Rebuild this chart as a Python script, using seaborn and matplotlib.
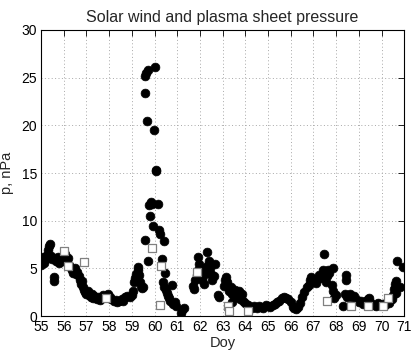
import numpy as np
import pandas as pd
import matplotlib
matplotlib.use("Agg")
import matplotlib.pyplot as plt
import seaborn as sns

# --- Donnees ---
# Vent solaire (cercles pleins)
sw_day = [55.00, 55.05, 55.10, 55.15, 55.20, 55.25, 55.30, 55.35, 55.40, 55.45,
          55.50, 55.55, 55.58, 55.65, 55.75, 55.80, 55.85, 55.95, 56.00, 56.05,
          56.10, 56.20, 56.25, 56.30, 56.35, 56.40, 56.45, 56.50, 56.55, 56.60,
          56.65, 56.70, 56.75, 56.80, 56.85, 56.90, 56.95, 57.00, 57.05, 57.10,
          57.20, 57.25, 57.30, 57.35, 57.45, 57.50, 57.60, 57.65, 57.75, 57.85,
          57.95, 58.05, 58.10, 58.20, 58.30, 58.35, 58.45, 58.55, 58.60, 58.70,
          58.80, 58.90, 59.00, 59.05, 59.10, 59.15, 59.20, 59.25, 59.28, 59.30,
          59.35, 59.40, 59.45, 59.50, 59.57, 59.57, 59.62, 59.70, 59.65, 59.60,
          59.70, 59.75, 59.78, 59.85, 59.90, 59.93, 59.98, 60.02, 60.08, 60.05,
          60.15, 60.18, 60.22, 60.33, 60.42, 60.35, 60.40, 60.45, 60.50, 60.55,
          60.60, 60.65, 60.70, 60.77, 60.80, 60.90, 60.95, 61.15, 61.22, 61.28,
          61.70, 61.72, 61.80, 61.85, 61.90, 61.92, 61.95, 62.00, 62.05, 62.10,
          62.15, 62.20, 62.25, 62.30, 62.33, 62.38, 62.40, 62.45, 62.50, 62.55,
          62.60, 62.68, 62.80, 62.85, 63.05, 63.10, 63.15, 63.20, 63.25, 63.30,
          63.35, 63.40, 63.42, 63.50, 63.55, 63.60, 63.70, 63.75, 63.85, 63.90,
          64.00, 64.10, 64.20, 64.30, 64.40, 64.50, 64.60, 64.70, 64.80, 64.90,
          65.00, 65.10, 65.20, 65.30, 65.40, 65.50, 65.60, 65.70, 65.80, 65.90,
          66.00, 66.10, 66.15, 66.25, 66.30, 66.40, 66.50, 66.60, 66.70, 66.80,
          66.85, 66.90, 67.00, 67.10, 67.20, 67.25, 67.35, 67.40, 67.48, 67.50,
          67.55, 67.60, 67.65, 67.70, 67.80, 67.85, 67.88, 67.92, 68.00, 68.30,
          68.40, 68.44, 68.45, 68.50, 68.60, 68.70, 68.80, 68.90, 69.00, 69.10,
          69.20, 69.30, 69.40, 69.46, 69.55, 69.65, 69.75, 69.85, 69.95, 70.05,
          70.15, 70.25, 70.35, 70.45, 70.50, 70.55, 70.60, 70.62, 70.65, 70.70,
          70.80, 70.93]
sw_p = [5.4, 5.9, 6.2, 5.6, 6.0, 6.4, 6.9, 7.3, 7.6, 6.3,
        6.0, 4.1, 3.7, 5.8, 6.2, 5.6, 6.0, 6.3, 5.9, 6.5,
        5.7, 6.1, 5.4, 5.0, 4.8, 4.5, 4.7, 5.0, 4.4, 4.6,
        4.2, 3.8, 3.4, 3.7, 3.0, 2.7, 2.5, 2.3, 2.6, 2.2,
        2.0, 2.3, 1.9, 2.1, 1.8, 2.0, 1.7, 1.9, 2.2, 2.0,
        2.3, 2.0, 1.8, 1.6, 1.7, 1.5, 1.6, 1.8, 1.6, 2.0,
        2.1, 2.0, 2.2, 2.6, 3.6, 4.0, 4.4, 4.8, 5.1, 4.3,
        3.6, 3.2, 2.9, 3.1, 25.2, 23.4, 25.5, 25.8, 20.5, 8.0,
        5.8, 11.6, 10.5, 12.0, 11.8, 9.4, 19.5, 26.1, 15.2, 15.3,
        11.7, 9.0, 8.6, 6.0, 7.9, 3.6, 3.0, 4.5, 2.7, 2.4,
        2.1, 1.9, 1.6, 3.3, 1.3, 1.5, 1.1, 0.3, 0.6, 0.9,
        3.2, 2.8, 3.8, 4.3, 4.8, 6.2, 5.5, 4.5, 5.0, 3.8,
        4.2, 3.4, 4.7, 5.2, 6.7, 5.8, 4.5, 5.0, 4.4, 3.8,
        4.2, 5.5, 2.2, 2.0, 3.2, 3.8, 4.1, 3.6, 3.0, 2.6,
        3.1, 2.3, 1.5, 2.2, 2.7, 2.0, 2.6, 1.8, 2.3, 1.6,
        1.4, 1.2, 1.0, 0.9, 1.1, 0.9, 1.1, 1.0, 0.9, 1.2,
        1.1, 1.0, 1.2, 1.3, 1.5, 1.6, 1.9, 2.0, 1.9, 1.8,
        1.5, 1.0, 0.8, 0.7, 1.0, 1.4, 2.0, 2.5, 3.0, 3.3,
        3.8, 4.1, 3.7, 3.5, 4.0, 4.3, 4.0, 4.8, 6.5, 4.5,
        3.6, 4.2, 4.8, 4.5, 3.3, 5.0, 2.6, 1.9, 2.2, 1.1,
        2.3, 3.8, 4.3, 2.0, 2.3, 2.0, 2.1, 1.7, 1.5, 1.6,
        1.3, 1.6, 1.8, 1.9, 1.4, 1.2, 1.1, 1.4, 1.2, 1.3,
        1.2, 1.5, 1.4, 1.8, 2.2, 2.8, 3.4, 3.7, 2.4, 5.8,
        3.1, 5.1]

# Feuillet de plasma (carres vides)
ps_day = [56.00, 56.20, 56.90, 57.85, 59.88, 60.30, 60.25, 61.87, 63.22, 63.30,
          64.10, 67.62, 68.65, 69.40, 70.05, 70.27]
ps_p = [6.85, 5.25, 5.7, 1.9, 7.1, 5.2, 1.2, 4.6, 1.1, 0.5,
        0.55, 1.6, 1.05, 1.1, 1.1, 1.9]

x_ticks = list(range(55, 72))
y_ticks = [0, 5, 10, 15, 20, 25, 30]

sw = pd.DataFrame({"doy": sw_day, "p": sw_p})
ps = pd.DataFrame({"doy": ps_day, "p": ps_p})

sns.set_style("white")
plt.rcParams["font.family"] = ["Liberation Sans", "DejaVu Sans"]

fig = plt.figure(figsize=(4.15, 3.52), dpi=100)
ax = fig.add_axes([0.099, 0.102, 0.875, 0.813])

sns.scatterplot(data=sw, x="doy", y="p", ax=ax, color="black", s=40,
                marker="o", edgecolor="black", linewidth=0.5, zorder=3)
sns.scatterplot(data=ps, x="doy", y="p", ax=ax, color="white", s=38,
                marker="s", edgecolor="#808080", linewidth=0.9, zorder=4)

ax.set_xlim(55, 71)
ax.set_ylim(0, 30)
ax.set_xticks(x_ticks)
ax.set_yticks(y_ticks)
ax.grid(True, linestyle=(0, (1, 2.5)), color="#a8a8a8", linewidth=0.7)
ax.set_axisbelow(True)

for sp in ax.spines.values():
    sp.set_color("black")
    sp.set_linewidth(0.8)

ax.tick_params(direction="in", length=4, width=0.6, top=True, right=True,
               labelsize=10, colors="black")
ax.tick_params(axis="x", pad=3)
ax.tick_params(axis="y", pad=3)
ax.set_title("Solar wind and plasma sheet pressure", fontsize=11.5, pad=6)
ax.set_xlabel("Doy", fontsize=10.5, labelpad=1)
ax.set_ylabel("p, nPa", fontsize=10.5, labelpad=5)

fig.savefig("out.png", dpi=100)
